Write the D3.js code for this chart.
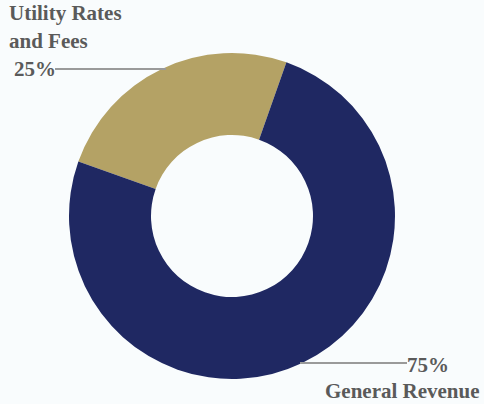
<!DOCTYPE html>
<html>
<head>
  <meta charset="utf-8">
  <title>Revenue split</title>
  <style>
    html, body { margin: 0; padding: 0; background: #f9fcfd; }
    text { font-family: "Liberation Serif", "DejaVu Serif", serif; font-weight: bold; fill: #5a5a5a; }
  </style>
</head>
<body>
  <script src="https://d3js.org/d3.v7.min.js"></script>
  <script>
    var categories = ["Utility Rates and Fees", "General Revenue"];
    var shares = [25, 75];
    var colors = ["#b4a265", "#1f2862"];

    var width = 484;
    var height = 404;
    var cx = 232, cy = 216;
    var outerR = 163, innerR = 81;

    var svg = d3.select("body").append("svg")
      .attr("width", width).attr("height", height);

    var pie = d3.pie().sort(null)
      .startAngle(-70.5 * Math.PI / 180)
      .endAngle((360 - 70.5) * Math.PI / 180);
    var arc = d3.arc().innerRadius(innerR).outerRadius(outerR);

    var g = svg.append("g").attr("transform", "translate(" + cx + "," + cy + ")");
    g.selectAll("path")
      .data(pie(shares))
      .enter().append("path")
      .attr("d", arc)
      .attr("fill", function(d, i) { return colors[i]; });

    // leader lines
    svg.append("line")
      .attr("x1", 55).attr("y1", 69).attr("x2", 166).attr("y2", 69)
      .attr("stroke", "#9a9a9a").attr("stroke-width", 2);
    svg.append("line")
      .attr("x1", 300).attr("y1", 363).attr("x2", 407).attr("y2", 363)
      .attr("stroke", "#9a9a9a").attr("stroke-width", 2);

    // labels
    var fs = 21;
    svg.append("text").attr("x", 9).attr("y", 20).attr("font-size", fs).text("Utility Rates");
    svg.append("text").attr("x", 9).attr("y", 48).attr("font-size", fs).text("and Fees");
    svg.append("text").attr("x", 14).attr("y", 76).attr("font-size", fs).text(shares[0] + "%");
    svg.append("text").attr("x", 407).attr("y", 372).attr("font-size", fs).text(shares[1] + "%");
    svg.append("text").attr("x", 325).attr("y", 398).attr("font-size", fs).text("General Revenue");
  </script>
</body>
</html>
